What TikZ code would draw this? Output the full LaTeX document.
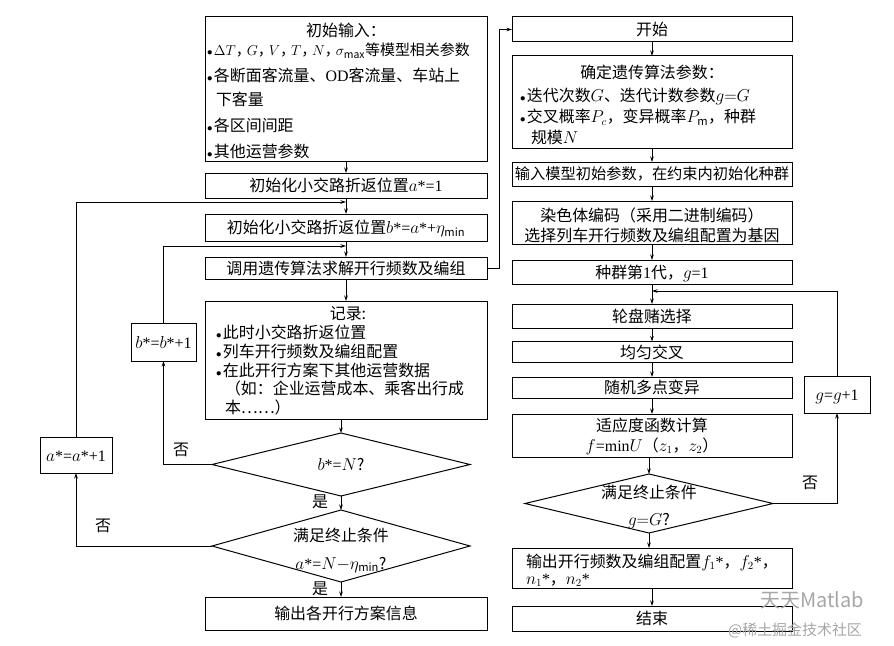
\documentclass[tikz,border=0pt]{standalone}
\usepackage{fontspec}
\setmainfont{Noto Sans CJK SC}
\newfontfamily\lat{Liberation Serif}
\usetikzlibrary{shapes.geometric,arrows.meta}
\newcommand\bul{{\fontsize{11}{11}\selectfont$\bullet$}\hspace{1.5bp}}
\newcommand\cm{，\kern-4bp}
\tikzset{
  t/.style={font=\fontsize{16}{19}\selectfont, inner sep=0pt, outer sep=0pt, text height=14bp, text depth=2bp},
  box/.style={t, draw, line width=1pt, rectangle, minimum width=280bp},
  dia/.style={t, draw, line width=1pt, diamond, aspect=1},
  arr/.style={line width=0.6pt, -{Stealth[length=5.5bp,width=3.5bp]}},
  wm/.style={inner sep=0pt, text=black!35},
}
\begin{document}
\begin{tikzpicture}[x=1bp,y=-1bp]
\useasboundingbox (0,0) rectangle (894,646);
% ---------------- left column ----------------
\node[box, minimum width=282bp, minimum height=144bp] (in0) at (346,89) {};
\node[t] (in0a) at (346,31) {初始输入：};
\node[t, anchor=west, font=\fontsize{15}{18}\selectfont] (in0b) at (207,50) {\bul$\Delta T$\cm$G$\cm$V$\cm$T$\cm$N$\cm$\sigma_{\max}$等模型相关参数};
\node[t, anchor=west] (in0c) at (207,76) {\bul 各断面客流量、{\lat OD}客流量、车站上};
\node[t, anchor=west] (in0d) at (216,100) {下客量};
\node[t, anchor=west] (in0e) at (207,126) {\bul 各区间间距};
\node[t, anchor=west] (in0f) at (207,152) {\bul 其他运营参数};

\node[box, minimum width=282bp, minimum height=25bp] (n1) at (346,185.5) {初始化小交路折返位置$a${\lat *=1}};
\coordinate (j1) at (346,202);
\node[box, minimum width=282bp, minimum height=27bp] (n2) at (346,227.5) {初始化小交路折返位置$b${\lat *=}$a${\lat *+}$\eta_{\min}$};
\coordinate (j2) at (346,246);
\node[box, minimum width=282bp, minimum height=22bp] (n3) at (346,268) {调用遗传算法求解开行频数及编组};

\node[box, minimum width=282bp, minimum height=118bp] (rec) at (346,360) {};
\node[t] (recA) at (348,313) {记录:};
\node[t, anchor=west] (recB) at (216,332) {\bul 此时小交路折返位置};
\node[t, anchor=west] (recC) at (216,351) {\bul 列车开行频数及编组配置};
\node[t, anchor=west] (recD) at (216,370) {\bul 在此开行方案下其他运营数据};
\node[t, anchor=west] (recE) at (225,388) {（如：企业运营成本、乘客出行成};
\node[t, anchor=west] (recF) at (225,407) {本……）};

\node[dia, minimum width=258bp, minimum height=53bp] (d1) at (341,464.5) {$b${\lat *=}$N$?};
\node[dia, minimum width=258bp, minimum height=72bp] (d2) at (341,546) {};
\node[t] (d2a) at (341,535) {满足终止条件};
\node[t] (d2b) at (341,563) {$a${\lat *=}$N{-}\eta_{\min}$?};
\node[box, minimum width=282bp, minimum height=33bp] (out) at (346,613.5) {输出各开行方案信息};

\node[box, minimum width=65bp, minimum height=38bp] (bb) at (163.5,342) {$b${\lat *=}$b${\lat *+1}};
\node[box, minimum width=72bp, minimum height=36bp] (aa) at (76,455) {$a${\lat *=}$a${\lat *+1}};

\node[t] (no1) at (181,449) {否};
\node[t] (yes1) at (320,501) {是};
\node[t] (no2) at (103,525) {否};
\node[t] (yes2) at (320,588) {是};

\draw[arr] (in0.south) -- (n1.north);
\draw[arr] (n1.south) -- (n2.north);
\draw[arr] (n2.south) -- (n3.north);
\draw[arr] (n3.south) -- (rec.north);
\draw[arr] (rec.south -| d1.north) -- (d1.north);
\draw[arr] (d1.south) -- (d2.north);
\draw[arr] (d2.south) -- (d2.south |- out.north);
\draw[arr] (d1.west) -| (bb.south);
\draw[arr] (bb.north) |- (j2);
\draw[arr] (d2.west) -| (aa.south);
\draw[arr] (aa.north) |- (j1);

% ---------------- right column ----------------
\node[box, minimum height=25bp] (start) at (652,29.5) {开始};
\node[box, minimum height=92bp] (ga) at (652,102) {};
\node[t] (gaA) at (652,73) {确定遗传算法参数：};
\node[t, anchor=west] (gaB) at (520,96) {\bul 迭代次数$G$、迭代计数参数$g{=}G$};
\node[t, anchor=west] (gaC) at (520,117) {\bul 交叉概率$P_c$，变异概率$P_{\mathrm m}$，种群};
\node[t, anchor=west] (gaD) at (531,138) {规模$N$};
\node[box, minimum height=24bp, font=\fontsize{15.3}{18}\selectfont] (init) at (652,174) {输入模型初始参数，在约束内初始化种群};
\node[box, minimum height=43bp] (code) at (652,222.5) {};
\node[t] (codeA) at (652,216) {染色体编码（采用二进制编码）};
\node[t] (codeB) at (652,236) {选择列车开行频数及编组配置为基因};
\node[box, minimum height=24bp] (gen1) at (652,272) {种群第{\lat 1}代，$g${\lat =1}};
\coordinate (j3) at (652,291);
\node[box, minimum height=24bp] (sel) at (652,316) {轮盘赌选择};
\node[box, minimum height=21bp] (cross) at (652,352) {均匀交叉};
\node[box, minimum height=21bp] (mut) at (652,387.5) {随机多点变异};
\node[box, minimum height=43bp] (fit) at (652,435.5) {};
\node[t] (fitA) at (652,425) {适应度函数计算};
\node[t] (fitB) at (652,445) {$f${\lat =min}$U$（$z_1$，$z_2$）};
\node[dia, minimum width=248bp, minimum height=59bp] (d3) at (649,503.5) {};
\node[t] (d3A) at (649,492) {满足终止条件};
\node[t] (d3B) at (649,519) {$g{=}G$?};
\node[box, minimum height=40bp] (outR) at (652,568) {};
\node[t, anchor=west] (outRA) at (526,561) {输出开行频数及编组配置$f_1${\lat *}，$f_2${\lat *}，};
\node[t, anchor=west] (outRB) at (526,578) {$n_1${\lat *}，$n_2${\lat *}};
\node[box, minimum height=25bp] (end) at (652,618.5) {结束};
\node[box, minimum width=66bp, minimum height=37bp] (gg) at (837,394.5) {$g${\lat =}$g${\lat +1}};
\node[t] (no3) at (810,482) {否};

\draw[arr] (start.south) -- (ga.north);
\draw[arr] (ga.south) -- (init.north);
\draw[arr] (init.south) -- (code.north);
\draw[arr] (code.south) -- (gen1.north);
\draw[arr] (gen1.south) -- (sel.north);
\draw[arr] (sel.south) -- (cross.north);
\draw[arr] (cross.south) -- (mut.north);
\draw[arr] (mut.south) -- (fit.north);
\draw[arr] (fit.south -| d3.north) -- (d3.north);
\draw[arr] (d3.south) -- (d3.south |- outR.north);
\draw[arr] (outR.south) -- (end.north);
\draw[arr] (d3.east) -| (gg.south);
\draw[arr] (gg.north) |- (j3);
\draw[arr] (n3.east) -- ++(12,0) |- (start.west);

% watermark
\node[wm, font=\fontsize{20}{22}\selectfont, anchor=west] (wm1) at (760,600) {天天Matlab};
\node[wm, font=\fontsize{15}{17}\selectfont, anchor=west] (wm2) at (728,630) {@稀土掘金技术社区};
\end{tikzpicture}
\end{document}
